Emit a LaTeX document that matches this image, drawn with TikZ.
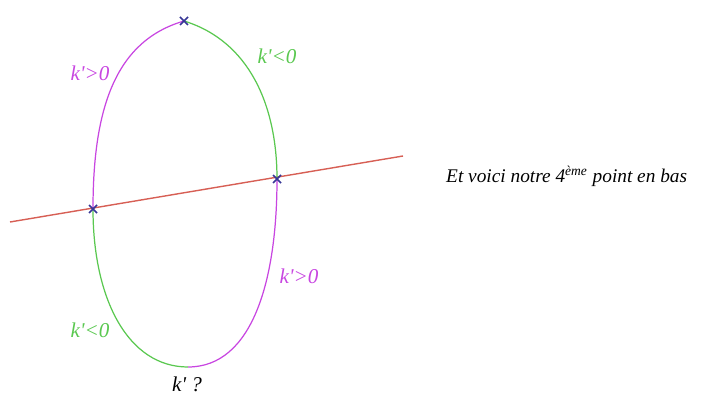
\documentclass[tikz,border=0pt]{standalone}
\usepackage{fontspec}
\setmainfont{Liberation Serif}
\usepackage{xcolor}
\usetikzlibrary{positioning}
\definecolor{arcmag}{RGB}{200,70,225}
\definecolor{arcgreen}{RGB}{90,200,80}
\definecolor{axisred}{RGB}{215,95,85}
\definecolor{crossblue}{RGB}{55,55,150}
\newcommand{\kp}{k\textquotesingle}

\begin{document}
\begin{tikzpicture}[
    x=0.02cm, y=-0.02cm,
    magarc/.style={draw=arcmag, line width=0.7pt},
    greenarc/.style={draw=arcgreen, line width=0.7pt},
    cross/.style={draw=crossblue, line width=0.9pt},
    sign/.style={font=\itshape\large, inner sep=1pt}
]
\useasboundingbox (0,0) rectangle (702,398);
\coordinate (top) at (184,21);
\coordinate (right) at (277,179);
\coordinate (left) at (93,209);
\coordinate (bottom) at (188,367);
\coordinate (lineA) at (10,222);
\coordinate (lineB) at (403,156);
% the line
\draw[draw=axisred, line width=0.8pt] (lineA) -- (lineB);
% the four arcs
\draw[magarc] (top) .. controls (115,41) and (93,109) .. (left);
\draw[greenarc] (top) .. controls (249,41) and (277,105) .. (right);
\draw[magarc] (right) .. controls (277,279) and (253,367) .. (bottom);
\draw[greenarc] (left) .. controls (93,299) and (128,367) .. (bottom);
% the crosses
\foreach \p in {top,right,left}{
  \draw[cross] (\p) +(-4,-4) -- +(4,4) +(-4,4) -- +(4,-4);
}
% the labels
\node[sign, text=arcmag] (kposA) at (90,73) {\kp>0};
\node[sign, text=arcgreen] (knegA) at (277,56) {\kp<0};
\node[sign, text=arcmag] (kposB) at (299,276) {\kp>0};
\node[sign, text=arcgreen] (knegB) at (90,330) {\kp<0};
\node[sign] (kq) at (187,384) {\kp\ ?};
\node[font=\itshape\fontsize{11}{14}\selectfont, anchor=west] (note) at (440,176) {Et voici notre 4\textsuperscript{ème} point en bas};
\end{tikzpicture}
\end{document}
